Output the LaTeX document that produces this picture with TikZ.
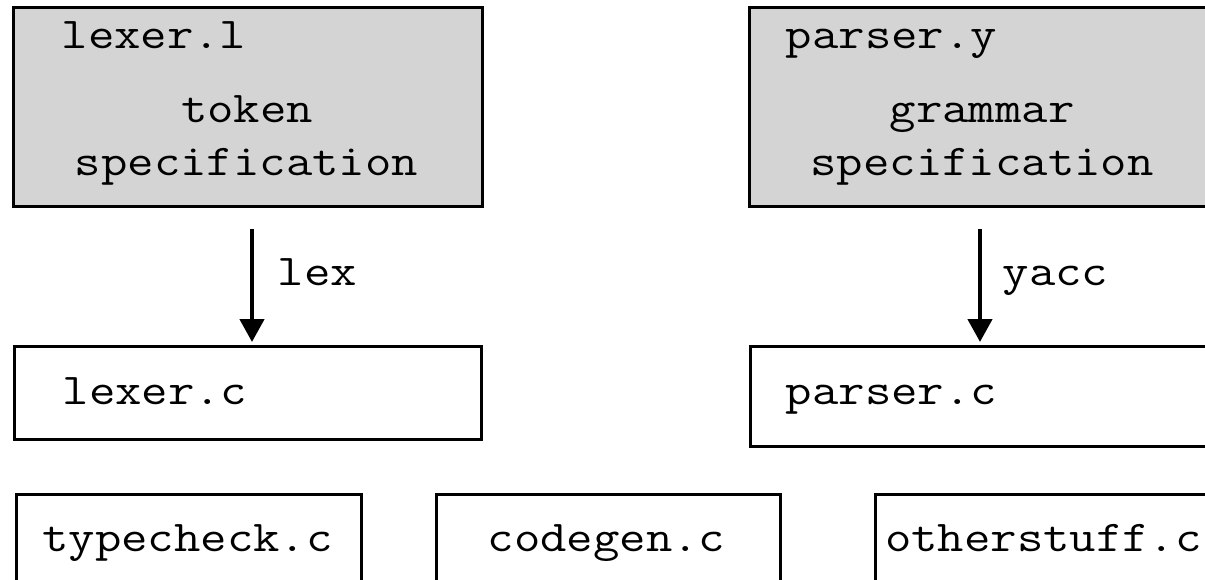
\documentclass[tikz,border=0pt]{standalone}
\usepackage{fontspec}
\newfontfamily\courfont[FakeStretch=1.165]{Latin Modern Mono}
\usetikzlibrary{arrows.meta}
\definecolor{boxgray}{RGB}{212,212,212}
\begin{document}
\begin{tikzpicture}[x=1pt,y=-1pt,
  box/.style={draw=black,line width=3pt,inner sep=0pt,outer sep=0pt,anchor=north west,rectangle},
  graybox/.style={box,fill=boxgray},
  lbl/.style={inner sep=0pt,outer sep=0pt,anchor=base,font=\fontsize{44}{53}\selectfont\courfont},
  lblw/.style={lbl,anchor=base west},
  arr/.style={line width=4.5pt,-{Triangle[length=23pt,width=24pt]}}]
\useasboundingbox (0,0) rectangle (1205,580);
\clip (0,0) rectangle (1205,580);
\fill[white] (0,0) rectangle (1205,580);
% boxes
\node[graybox,minimum width=469pt,minimum height=199pt] (lexl) at (13,8) {};
\node[graybox,minimum width=466pt,minimum height=199pt] (parsy) at (749,8) {};
\node[box,minimum width=467pt,minimum height=93pt] (lexc) at (14,346) {};
\node[box,minimum width=465pt,minimum height=100pt] (parsc) at (750,346) {};
\node[box,minimum width=345pt,minimum height=120pt] (typec) at (16,494) {};
\node[box,minimum width=344pt,minimum height=120pt] (codeg) at (436,494) {};
\node[box,minimum width=345pt,minimum height=120pt] (other) at (875,494) {};
% texts
\node[lbl] (t1) at (154,49) {lexer.l};
\node[lbl] (t2) at (247,123) {token};
\node[lbl] (t3) at (246.5,176) {specification};
\node[lbl] (t4) at (891.5,49) {parser.y};
\node[lbl] (t5) at (982,123) {grammar};
\node[lbl] (t6) at (982,176) {specification};
\node[lbl] (t7) at (155,404) {lexer.c};
\node[lbl] (t8) at (891.5,404) {parser.c};
\node[lbl] (t9) at (187.5,551) {typecheck.c};
\node[lbl] (t10) at (606.5,551) {codegen.c};
\node[lblw] (t11) at (885,551) {otherstuff.c};
\node[lbl] (lexlbl) at (317.5,285) {lex};
\node[lbl] (yacclbl) at (1055.5,285) {yacc};
% arrows
\draw[arr,shorten <=22pt,shorten >=4pt] ([xshift=4.5pt]lexl.south) -- ([xshift=238pt]lexc.north west);
\draw[arr,shorten <=22pt,shorten >=4pt] ([xshift=231pt]parsy.south west) -- ([xshift=230pt]parsc.north west);
\end{tikzpicture}
\end{document}
